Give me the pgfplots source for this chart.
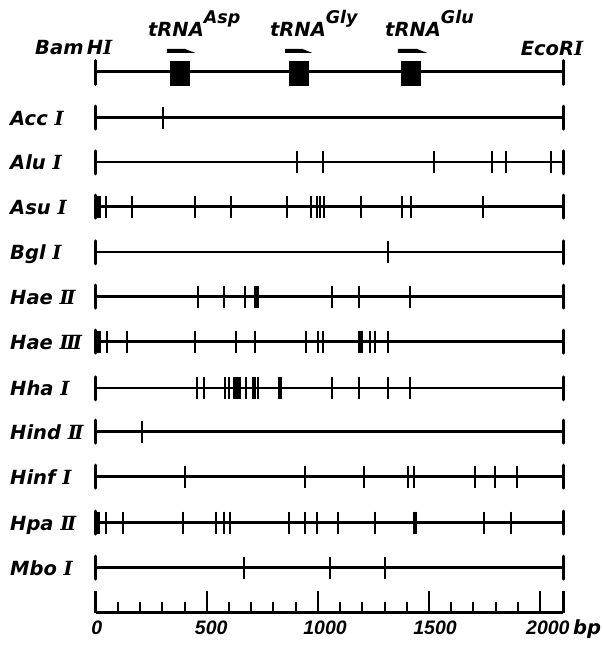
\documentclass[border=0pt]{standalone}
\usepackage{pgfplots}
\pgfplotsset{compat=1.18}
\usepackage{fontspec}
\setmainfont{DejaVu Sans}
\newfontfamily\rnfont{DejaVu Serif}
\newfontfamily\numfont{Liberation Sans}
\newcommand{\rn}[1]{{\rnfont #1}}
\newcommand{\rnII}{{\rnfont I\kern-2.5pt I}}
\newcommand{\rnIII}{{\rnfont I\kern-2.5pt I\kern-2.5pt I}}
\begin{document}
\begin{tikzpicture}[
  base/.style={line width=2.4pt, black},
  site/.style={only marks, mark=|, mark size=11pt, line width=2pt, black, mark options={line width=2pt}},
  endb/.style={only marks, mark=|, mark size=11.5pt, line width=3pt, black, line cap=round, mark options={line width=3pt}},
  lab/.style={anchor=base west, font=\fontsize{19.5}{21}\selectfont\bfseries\itshape, inner sep=0pt},
  tr/.style={anchor=base west, inner sep=0pt, font=\fontsize{19.5}{21}\selectfont\bfseries\itshape},
  nm/.style={anchor=base, inner sep=0pt, font=\fontsize{19.5}{21}\selectfont\numfont\bfseries\itshape},
]
\begin{axis}[
  scale only axis, width=603pt, height=646pt,
  xmin=-430.7, xmax=2283, ymin=-646, ymax=0,
  hide axis, clip=false,
]
\path (rel axis cs:0,0) rectangle (rel axis cs:1,1);

% ---------- top map ----------
\addplot[line width=3.2pt, black] coordinates {(0,-71.7) (2104,-71.7)};
\addplot[only marks, mark=|, mark size=12pt, black, line cap=round, mark options={line width=2.8pt}] coordinates {(0,-72.5) (2104,-72.5)};
\addplot[fill=black, draw=black, line width=0.5pt] coordinates {(336,-61.7) (422,-61.7) (422,-85.7) (336,-85.7)} -- cycle;
\addplot[fill=black, draw=black, line width=0.5pt] coordinates {(872,-61.7) (958,-61.7) (958,-85.7) (872,-85.7)} -- cycle;
\addplot[fill=black, draw=black, line width=0.5pt] coordinates {(1376,-61.7) (1462,-61.7) (1462,-85.7) (1376,-85.7)} -- cycle;
% arrows
\addplot[fill=black, draw=none] coordinates {(320,-48.8) (400,-48.8) (447,-52.8) (320,-52.8)} -- cycle;
\addplot[fill=black, draw=none] coordinates {(852,-48.8) (928,-48.8) (973,-52.8) (852,-52.8)} -- cycle;
\addplot[fill=black, draw=none] coordinates {(1360,-48.8) (1444,-48.8) (1491,-52.8) (1360,-52.8)} -- cycle;

\node[lab] at (axis cs:-273,-55) {Bam\,H\rn{I}};
\node[lab] at (axis cs:1912,-56) {EcoR\rn{I}};
\node[tr] at (axis cs:235,-37) {tRNA\raisebox{13pt}{\fontsize{17.5}{19}\selectfont Asp}};
\node[tr] at (axis cs:784,-37) {tRNA\raisebox{13pt}{\fontsize{17.5}{19}\selectfont Gly}};
\node[tr] at (axis cs:1302,-37) {tRNA\raisebox{13pt}{\fontsize{17.5}{19}\selectfont Glu}};

% ---------- Acc I ----------
\addplot[base] coordinates {(0,-117.7) (2104,-117.7)};
\addplot[endb] coordinates {(0,-117.7) (2104,-117.7)};
\addplot[site] coordinates {(305,-117.7)};
\node[lab] at (axis cs:-385.7,-125.5) {Acc \rn{I}};

% ---------- Alu I ----------
\addplot[base] coordinates {(0,-162.3) (2104,-162.3)};
\addplot[endb] coordinates {(0,-162.3) (2104,-162.3)};
\addplot[site] coordinates {(905,-162.3) (1022,-162.3) (1522,-162.3) (1783,-162.3) (1845,-162.3) (2047,-162.3)};
\node[lab] at (axis cs:-385.7,-170) {Alu \rn{I}};

% ---------- Asu I ----------
\addplot[base] coordinates {(0,-206.7) (2104,-206.7)};
\addplot[endb] coordinates {(0,-206.7) (2104,-206.7)};
\addplot[site] coordinates {(10,-206.7) (20,-206.7) (48,-206.7) (163,-206.7) (448,-206.7) (610,-206.7) (862,-206.7) (970,-206.7) (996,-206.7) (1011,-206.7) (1027,-206.7) (1195,-206.7) (1378,-206.7) (1417,-206.7) (1743,-206.7)};
\node[lab] at (axis cs:-385.7,-214.5) {Asu \rn{I}};

% ---------- Bgl I ----------
\addplot[base] coordinates {(0,-252.3) (2104,-252.3)};
\addplot[endb] coordinates {(0,-252.3) (2104,-252.3)};
\addplot[site] coordinates {(1315,-252.3)};
\node[lab] at (axis cs:-385.7,-260) {Bgl \rn{I}};

% ---------- Hae II ----------
\addplot[base] coordinates {(0,-296.7) (2104,-296.7)};
\addplot[endb] coordinates {(0,-296.7) (2104,-296.7)};
\addplot[site] coordinates {(460,-296.7) (577,-296.7) (673,-296.7) (718,-296.7) (726,-296.7) (732,-296.7) (1063,-296.7) (1185,-296.7) (1416,-296.7)};
\node[lab] at (axis cs:-385.7,-304.5) {Hae \rnII};

% ---------- Hae III ----------
\addplot[base] coordinates {(0,-341.7) (2104,-341.7)};
\addplot[endb] coordinates {(0,-341.7) (2104,-341.7)};
\addplot[site] coordinates {(4,-341.7) (11,-341.7) (18,-341.7) (49,-341.7) (141,-341.7) (445,-341.7) (633,-341.7) (715,-341.7) (945,-341.7) (1000,-341.7) (1021,-341.7) (1186,-341.7) (1193,-341.7) (1200,-341.7) (1236,-341.7) (1255,-341.7) (1315,-341.7)};
\node[lab] at (axis cs:-385.7,-349.5) {Hae \rnIII};

% ---------- Hha I ----------
\addplot[base] coordinates {(0,-388.3) (2104,-388.3)};
\addplot[endb] coordinates {(0,-388.3) (2104,-388.3)};
\addplot[site] coordinates {(457,-388.3) (486,-388.3) (582,-388.3) (600,-388.3) (622,-388.3) (632,-388.3) (640,-388.3) (649,-388.3) (678,-388.3) (706,-388.3) (717,-388.3) (732,-388.3) (826,-388.3) (834,-388.3) (1065,-388.3) (1185,-388.3) (1315,-388.3) (1416,-388.3)};
\node[lab] at (axis cs:-385.7,-396) {Hha \rn{I}};

% ---------- Hind II ----------
\addplot[base] coordinates {(0,-431.7) (2104,-431.7)};
\addplot[endb] coordinates {(0,-431.7) (2104,-431.7)};
\addplot[site] coordinates {(210,-431.7)};
\node[lab] at (axis cs:-385.7,-439.5) {Hind \rnII};

% ---------- Hinf I ----------
\addplot[base] coordinates {(0,-476.7) (2104,-476.7)};
\addplot[endb] coordinates {(0,-476.7) (2104,-476.7)};
\addplot[site] coordinates {(400,-476.7) (940,-476.7) (1207,-476.7) (1405,-476.7) (1431,-476.7) (1708,-476.7) (1795,-476.7) (1894,-476.7)};
\node[lab] at (axis cs:-385.7,-484.5) {Hinf \rn{I}};

% ---------- Hpa II ----------
\addplot[base] coordinates {(0,-522.7) (2104,-522.7)};
\addplot[endb] coordinates {(0,-522.7) (2104,-522.7)};
\addplot[site] coordinates {(6,-522.7) (15,-522.7) (48,-522.7) (123,-522.7) (394,-522.7) (540,-522.7) (577,-522.7) (606,-522.7) (871,-522.7) (943,-522.7) (996,-522.7) (1090,-522.7) (1255,-522.7) (1432,-522.7) (1438,-522.7) (1443,-522.7) (1747,-522.7) (1867,-522.7)};
\node[lab] at (axis cs:-385.7,-530.5) {Hpa \rnII};

% ---------- Mbo I ----------
\addplot[base] coordinates {(0,-567.7) (2104,-567.7)};
\addplot[endb] coordinates {(0,-567.7) (2104,-567.7)};
\addplot[site] coordinates {(667,-567.7) (1053,-567.7) (1303,-567.7)};
\node[lab] at (axis cs:-385.7,-575.5) {Mbo \rn{I}};

% ---------- scale bar ----------
\addplot[line width=2.6pt, black] coordinates {(0,-612.7) (2104,-612.7)};
\addplot[only marks, mark=|, mark size=11pt, black, mark options={line width=3pt}] coordinates {(0,-601.8) (2104,-601.8)};
\addplot[only marks, mark=|, mark size=11pt, black, mark options={line width=2pt}] coordinates {(500,-601.8) (1000,-601.8) (1500,-601.8) (2000,-601.8)};
\addplot[only marks, mark=|, mark size=5.5pt, black, mark options={line width=2pt}] coordinates {(100,-607.2) (200,-607.2) (300,-607.2) (400,-607.2) (600,-607.2) (700,-607.2) (800,-607.2) (900,-607.2) (1100,-607.2) (1200,-607.2) (1300,-607.2) (1400,-607.2) (1600,-607.2) (1700,-607.2) (1800,-607.2) (1900,-607.2)};
\node[nm] at (axis cs:5,-635) {0};
\node[nm] at (axis cs:520,-635) {500};
\node[nm] at (axis cs:1032,-635) {1000};
\node[nm] at (axis cs:1527,-635) {1500};
\node[nm] at (axis cs:2035,-635) {2000};
\node[lab] at (axis cs:2148,-635) {bp};
\end{axis}
\end{tikzpicture}
\end{document}
